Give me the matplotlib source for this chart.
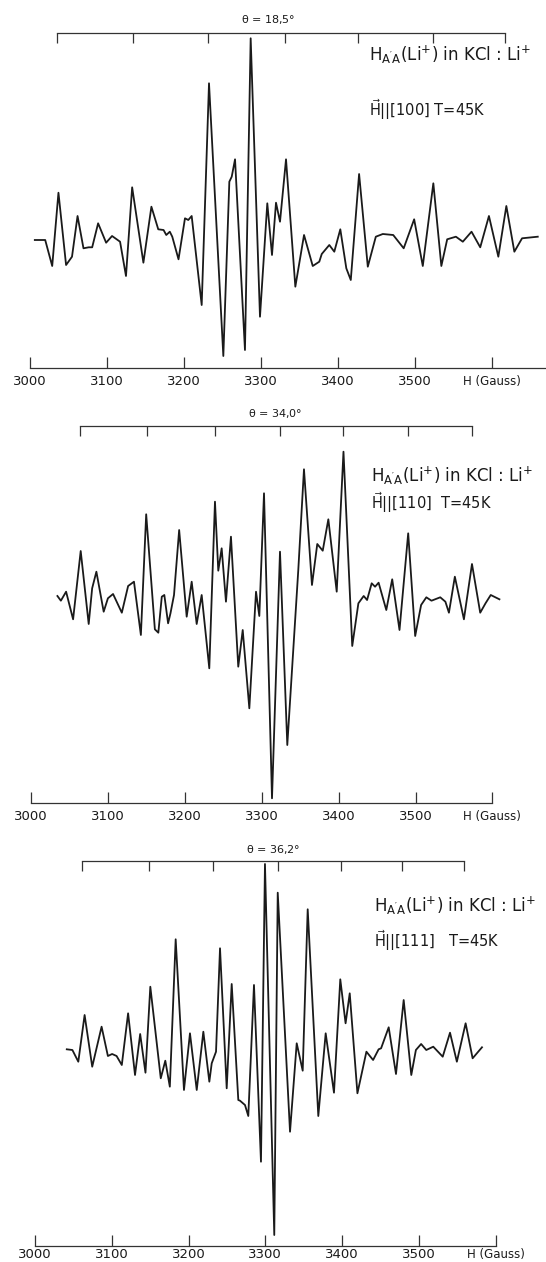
import matplotlib
matplotlib.use("Agg")
import matplotlib.pyplot as plt

# ──────────────────────────────────────────────
# Data (field in Gauss, signal in arb. units)
# ──────────────────────────────────────────────
FIELD_100 = [3006.8, 3020.3, 3029.4, 3037.5, 3047.4, 3055.1, 3062.3, 3070.0, 3076.8,
             3081.3, 3089.0, 3099.4, 3107.1, 3117.5, 3125.2, 3133.2, 3147.8, 3158.2,
             3167.1, 3174.0, 3177.5, 3182.1, 3185.3, 3193.4, 3201.8, 3206.1, 3210.5,
             3223.5, 3233.0, 3251.6, 3259.4, 3262.5, 3266.8, 3279.7, 3287.1, 3299.2,
             3308.7, 3314.8, 3320.0, 3325.2, 3333.0, 3345.1, 3356.4, 3367.7, 3376.2,
             3379.4, 3389.2, 3395.7, 3403.5, 3411.3, 3417.1, 3427.9, 3439.2, 3449.6,
             3458.7, 3472.2, 3485.8, 3499.4, 3510.6, 3524.3, 3534.7, 3542.3, 3553.6,
             3562.6, 3573.9, 3585.2, 3596.5, 3608.7, 3619.1, 3629.5, 3639.5, 3659.9]
SIGNAL_100 = [0, 0, -26, 47.3, -25, -16.7, 24, -8.3, -7.3,
              -7.3, 16.7, -2.7, 4, -1.7, -36, 52.7, -22.7, 33.3,
              10.7, 10, 5, 8.3, 3.3, -19.3, 21.7, 20, 24,
              -65, 156.7, -116, 58.3, 63.3, 80.7, -110, 201.7, -76.7,
              36.7, -15, 37.3, 18.3, 80.7, -46.7, 5, -26, -21.7,
              -14, -5, -11.7, 10.7, -28.3, -40, 66, -26.7, 3.3,
              6, 5, -8.3, 20.7, -26, 56.7, -26, 0.7, 3.3,
              -1.7, 8.3, -7.3, 24, -16.7, 34, -11.7, 1.7, 3.3]

FIELD_110 = [3034.0, 3038.5, 3045.3, 3054.4, 3064.3, 3074.7, 3079.2, 3084.7, 3094.2,
             3099.7, 3106.4, 3117.8, 3126.0, 3133.6, 3142.6, 3149.5, 3160.8, 3165.3,
             3169.8, 3173.1, 3178.0, 3181.1, 3185.7, 3192.4, 3202.2, 3208.7, 3215.2,
             3221.7, 3231.6, 3239.0, 3243.3, 3247.7, 3253.3, 3259.8, 3269.3, 3275.1,
             3283.7, 3292.4, 3296.7, 3302.8, 3313.2, 3323.6, 3333.1, 3347.4, 3354.8,
             3365.2, 3372.1, 3379.2, 3386.5, 3397.4, 3406.2, 3417.6, 3425.6, 3432.5,
             3436.9, 3442.9, 3447.3, 3451.9, 3461.9, 3469.6, 3479.1, 3490.4, 3499.5,
             3507.2, 3514.0, 3520.7, 3532.1, 3538.8, 3543.4, 3551.1, 3562.9, 3573.4,
             3584.1, 3591.0, 3597.8, 3609.1]
SIGNAL_110 = [2, -2.7, 6.3, -21.3, 47, -26, 9.7, 26.3, -13.7,
              -0.3, 4, -14.7, 12, 16.3, -37, 83.7, -31.3, -34.7,
              1.3, 3, -25.3, -15.3, 3, 68, -18.7, 16.3, -26,
              3, -70.3, 96.3, 27.3, 49.7, -3.7, 61.3, -68.7, -32,
              -110.3, 6.3, -18, 104.7, -200.3, 46.3, -147, 28, 128.7,
              13, 54, 47.3, 78.7, 6.3, 146.3, -48, -5.3, 2,
              -2, 14.7, 11.3, 15.3, -12, 18.7, -32, 64.7, -38,
              -7, 0.7, -2.7, 0.7, -3.7, -14.7, 21.3, -21.3, 34,
              -14.7, -5.3, 3, -1.3]

FIELD_111 = [3041.6, 3048.9, 3056.6, 3064.8, 3074.7, 3086.9, 3095.1, 3100.6, 3106.4,
             3113.2, 3121.4, 3130.4, 3137.1, 3144.0, 3150.3, 3163.9, 3169.8, 3175.7,
             3183.3, 3194.1, 3201.9, 3210.7, 3219.3, 3227.1, 3230.2, 3235.8, 3241.0,
             3249.7, 3256.2, 3264.8, 3267.0, 3273.5, 3277.8, 3285.2, 3294.3, 3299.5,
             3311.6, 3316.1, 3332.1, 3340.8, 3348.6, 3355.1, 3368.9, 3378.5, 3389.3,
             3397.5, 3404.4, 3409.8, 3419.8, 3431.5, 3440.2, 3447.4, 3450.6, 3460.5,
             3470.0, 3480.0, 3489.9, 3495.9, 3502.7, 3509.4, 3518.5, 3530.8, 3540.3,
             3549.2, 3560.6, 3569.7, 3581.9]
SIGNAL_111 = [-0.3, -1, -12.7, 34, -17.7, 22.3, -7, -5, -7,
              -16, 35.7, -26, 15, -23.7, 62.3, -29.3, -11.7, -37.7,
              109.7, -41, 15.7, -41, 17.3, -32.7, -14.3, -2.7, 100.7,
              -39.3, 65, -51, -51.7, -56, -67, 64, -112.7, 185,
              -186, 156.3, -82.7, 5.7, -21.7, 139.7, -67, 15.7, -43.7,
              69.7, 25.7, 55.7, -44.3, -2.7, -11, -0.3, 0.7, 21.7,
              -25, 49, -26, -1, 5, -1, 2.3, -7.7, 16.3,
              -12.7, 25.7, -9.3, 1.7]

# upper bracket scales (Gauss)
TOP_TICKS_100 = [3036, 3134, 3232, 3332, 3427, 3524, 3617]
TOP_TICKS_110 = [3064, 3150, 3239, 3323, 3406, 3490, 3573]
TOP_TICKS_111 = [3062, 3149, 3232, 3316, 3398, 3478, 3558]

FIELD_TICKS = [3000, 3100, 3200, 3300, 3400, 3500, 3600]
FIELD_LABELS = ["3000", "3100", "3200", "3300", "3400", "3500", "H (Gauss)"]

THETAS = ["18,5°", "34,0°", "36,2°"]
DIRECTIONS = ["[100] T=45K", "[110]  T=45K", "[111]   T=45K"]

# ──────────────────────────────────────────────
# Layout (pixels of a 546 x 1262 page)
# ──────────────────────────────────────────────
W, H = 546, 1262
INK = "#1a1a1a"
plt.rcParams.update({
    "font.family": "DejaVu Sans",
    "mathtext.default": "regular",
    "font.size": 10,
})

PANELS = [
    dict(top=33.3, bot=368.3, xlim=(2961.6, 3670.6), s=(206.7, -128.3), end=3670,
         theta=(268, 20), txt=(369, 55, 110), pad=5,
         field=FIELD_100, sig=SIGNAL_100, top_ticks=TOP_TICKS_100),
    dict(top=426.0, bot=802.7, xlim=(2959.3, 3669.7), s=(172.0, -204.7), end=3600,
         theta=(275, 413), txt=(371, 476, 503), pad=5,
         field=FIELD_110, sig=SIGNAL_110, top_ticks=TOP_TICKS_110),
    dict(top=860.7, bot=1246.0, xlim=(2954.7, 3665.2), s=(188.3, -197.0), end=3600,
         theta=(273, 850), txt=(374, 906, 941), pad=1.5,
         field=FIELD_111, sig=SIGNAL_111, top_ticks=TOP_TICKS_111),
]

fig = plt.figure(figsize=(W / 100, H / 100), dpi=100)
fig.patch.set_facecolor("white")

for i, p in enumerate(PANELS):
    ax = fig.add_axes([0, 1 - p["bot"] / H, 1, (p["bot"] - p["top"]) / H])
    ax.set_facecolor("none")
    ax.plot(p["field"], p["sig"], color=INK, lw=1.3, solid_joinstyle="round")
    ax.set_xlim(*p["xlim"])
    ax.set_ylim(p["s"][1], p["s"][0])

    for side in ("left", "right", "top"):
        ax.spines[side].set_visible(False)
    ax.spines["bottom"].set_bounds(3000, p["end"])
    ax.spines["bottom"].set_color("#333333")
    ax.spines["bottom"].set_linewidth(0.9)
    ax.set_yticks([])
    ax.set_xticks(FIELD_TICKS)
    ax.set_xticklabels(FIELD_LABELS)
    ax.tick_params(axis="x", direction="in", length=8, width=0.9, color="#333333",
                   pad=p["pad"], labelsize=9.5, labelcolor=INK)
    for lab in ax.get_xticklabels()[-1:]:
        lab.set_fontsize(8.5)

    # upper bracket
    sec = ax.secondary_xaxis("top")
    sec.set_xticks(p["top_ticks"])
    sec.tick_params(direction="in", length=7, width=0.9, color="#333333",
                    labeltop=False)
    sec.spines["top"].set_bounds(p["top_ticks"][0], p["top_ticks"][-1])
    sec.spines["top"].set_color("#333333")
    sec.spines["top"].set_linewidth(0.9)

    tx, ty = p["theta"]
    fig.text(tx / W, 1 - ty / H, r"$\theta$ = " + THETAS[i], ha="center",
             va="center", fontsize=8, color=INK)

    x0, y1, y2 = p["txt"]
    fig.text(x0 / W, 1 - y1 / H, r"H$_{A'A}$(Li$^{+}$) in KCl : Li$^{+}$",
             ha="left", va="center", fontsize=12, color=INK)
    fig.text(x0 / W, 1 - y2 / H, r"$\vec{H}$||" + DIRECTIONS[i],
             ha="left", va="center", fontsize=10.5, color=INK)

fig.savefig("out.png", dpi=100, facecolor="white")
